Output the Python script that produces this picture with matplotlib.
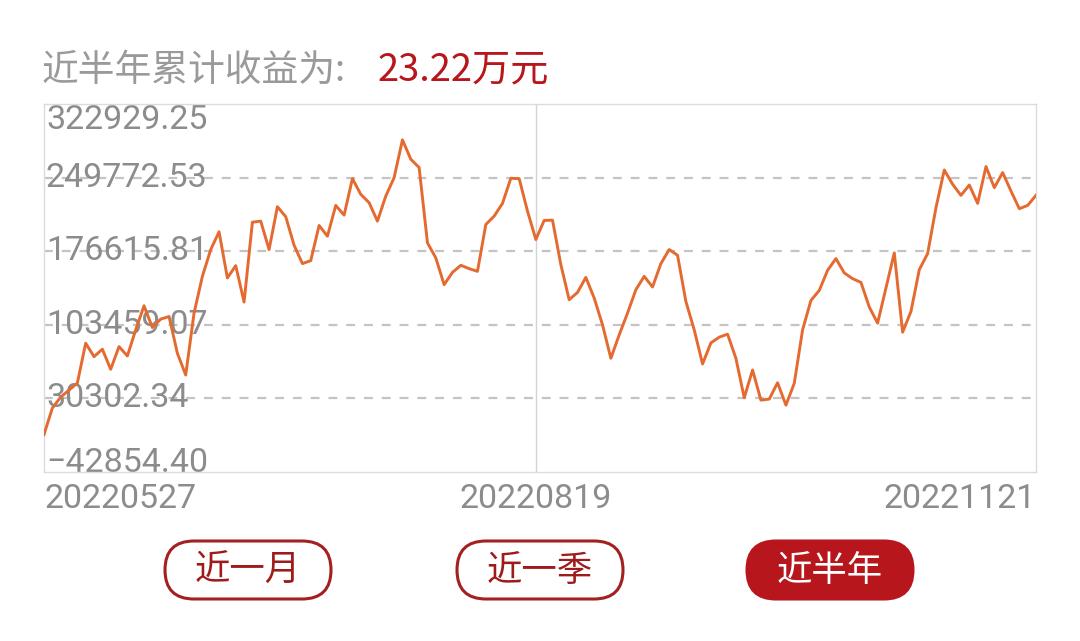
import numpy as np
import matplotlib
matplotlib.use("Agg")
import matplotlib.pyplot as plt
from matplotlib.patches import FancyBboxPatch
import matplotlib.transforms as mtransforms

plt.rcParams['font.family'] = ['Roboto', 'Noto Sans CJK SC', 'DejaVu Sans']

# cumulative profit, one value per trading day (20220527 .. 20221121)
profit = [
    -5612, 20625, 31599, 38582, 45565, 85170, 71802, 79184, 59232, 81778,
    72499, 98438, 122381, 100734, 109112, 111706, 75194, 53546, 115098, 151610,
    178245, 195904, 150014, 162285, 126072, 205479, 206477, 178245, 220844, 210868,
    182535, 164280, 167272, 202188, 191514, 222141, 212466, 248776, 233115, 224834,
    206477, 231418, 249774, 287284, 268030, 259750, 184930, 169966, 143330, 155600,
    162585, 159293, 156599, 203186, 211467, 224137, 249076, 248776, 216454, 188222,
    207176, 207475, 163284, 128365, 135648, 150612, 130062, 103426, 70206, 93450,
    115098, 138344, 151612, 141036, 164280, 178245, 172559, 126671, 98438, 64520,
    85469, 91156, 94148, 70206, 30901, 58534, 28606, 29604, 45865, 23618,
    45266, 98438, 127668, 137644, 157596, 169268, 155002, 149316, 145625, 121084,
    105122, 140038, 174954, 96144, 116693, 158294, 174256, 219846, 257356, 243090,
    232116, 242396, 224137, 260748, 239798, 254762, 236406, 218848, 222141, 232200,
]
y_ticks = [-42854.40, 30302.34, 103459.07, 176615.81, 249772.53, 322929.25]
x_labels = ['20220527', '20220819', '20221121']
x_label_idx = [0, 59, 119]
title_text = '近半年累计收益为:'
total_text = '23.22万元'
buttons = ['近一月', '近一季', '近半年']

gray_txt = '#8c8c8c'
red = '#b7161c'
cjk = ['Noto Sans CJK SC', 'DejaVu Sans']

fig = plt.figure(figsize=(10.8, 6.41), dpi=100)
fig.patch.set_facecolor('white')

ax = fig.add_axes([44 / 1080, 169 / 641, 992 / 1080, 368 / 641])
x = np.arange(len(profit))
ax.set_xlim(0, len(profit) - 1)
ax.set_ylim(y_ticks[0], y_ticks[-1])

for v in y_ticks[1:-1]:
    ax.axhline(v, color='#c4c4c4', lw=1.6, ls=(0, (4, 4)), zorder=1)
ax.axvline(x_label_idx[1], color='#d3d3d3', lw=1.0, zorder=1)
ax.plot(x, profit, color='#e46a30', lw=2.1, zorder=3)

ax.set_xticks([])
ax.set_yticks([])
for s in ax.spines.values():
    s.set_color('#dcdcdc')
    s.set_linewidth(1.0)

trans = mtransforms.blended_transform_factory(ax.transAxes, ax.transData)
for i, v in enumerate(y_ticks):
    va = 'center'
    if i == 0:
        va = 'baseline'
    elif i == len(y_ticks) - 1:
        va = 'top'
    lab = f'{v:.2f}'.replace('-', '−')
    ax.text(0.002, v, lab, transform=trans, ha='left', va=va,
            fontsize=24.5, color=gray_txt, zorder=2)

xtrans = mtransforms.blended_transform_factory(ax.transData, ax.transAxes)
for lab, idx, ha in zip(x_labels, x_label_idx, ['left', 'center', 'right']):
    ax.text(idx, -0.03, lab, transform=xtrans, ha=ha, va='top',
            fontsize=24.5, color=gray_txt)

# overlay in pixel coords for header and buttons
ov = fig.add_axes([0, 0, 1, 1], zorder=-1)
ov.set_xlim(0, 1080)
ov.set_ylim(641, 0)
ov.axis('off')

ov.text(42, 70, title_text, fontsize=26.5, color='#9a9a9a', va='center', ha='left',
        family=cjk)
ov.text(378, 70, total_text, fontsize=27.5, color=red, va='center', ha='left',
        family=cjk)

centers = [248, 540, 830]
for k, (lab, cx) in enumerate(zip(buttons, centers)):
    active = k == len(buttons) - 1
    box = FancyBboxPatch((cx - 83, 541), 166, 58,
                         boxstyle='round,pad=0,rounding_size=29',
                         facecolor=red if active else 'white',
                         edgecolor=red if active else '#a32020', lw=2.2)
    ov.add_patch(box)
    ov.text(cx, 571, lab, fontsize=25.5, ha='center', va='center',
            color='white' if active else '#9e1b1b', family=cjk)

fig.savefig('out.png', dpi=100, facecolor='white')
